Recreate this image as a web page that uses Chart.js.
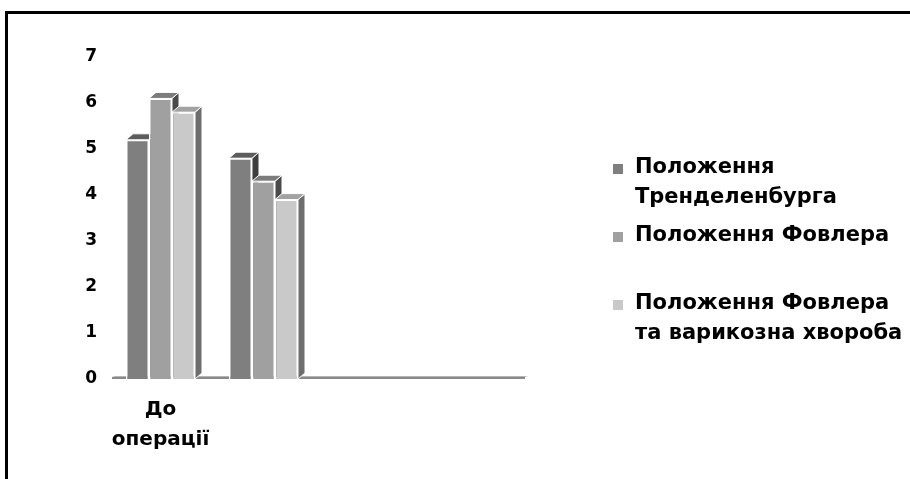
<!DOCTYPE html>
<html>
<head>
<meta charset="utf-8">
<script src="https://cdn.jsdelivr.net/npm/chart.js@4.4.0/dist/chart.umd.min.js"></script>
<style>
  html, body { margin: 0; padding: 0; background: #fff; }
  #wrap { position: relative; width: 910px; height: 479px; overflow: hidden; }
  #frame { position: absolute; left: 5px; top: 11px; width: 1000px; height: 1000px;
           border: 3px solid #000; box-sizing: border-box; pointer-events: none; }
  canvas { position: absolute; left: 0; top: 0; }
</style>
</head>
<body>
<div id="wrap">
  <canvas id="chart" width="910" height="479"></canvas>
  <div id="frame"></div>
</div>
<script>
// Categories along the floor (only the first one carries a caption)
const categories = [['До', 'операції'], '', '', ''];

// Series names, split into the lines shown in the legend
const seriesNames = [
  ['Положення', 'Тренделенбурга'],
  ['Положення Фовлера'],
  ['Положення Фовлера', 'та варикозна хвороба']
];

// Values per category for each series
const trendelenburg  = [5.2, 4.8, null, null];
const fowler         = [6.1, 4.3, null, null];
const fowlerVaricose = [5.8, 3.9, null, null];

// Value axis ticks
const yTicks = [0, 1, 2, 3, 4, 5, 6, 7];

// Face colours: front, top, side
const frontColors = ['#7f7f7f', '#a0a0a0', '#c9c9c9'];
const topColors   = ['#5c5c5c', '#7c7c7c', '#a2a2a2'];
const sideColors  = ['#3e3e3e', '#4a4a4a', '#6e6e6e'];

const FONT = '"DejaVu Sans", "Liberation Sans", Arial, sans-serif';
const DEPTH_X = 7, DEPTH_Y = 6;

// Draws the floor slab plus the top and side faces of every column.
// Fronts are drawn afterwards by Chart.js, so neighbouring columns
// hide the parts of these faces they stand in front of.
const columns3d = {
  id: 'columns3d',
  beforeDatasetsDraw(chart) {
    const { ctx, chartArea } = chart;
    const zeroY = chart.scales.y.getPixelForValue(0);
    ctx.save();
    ctx.fillStyle = '#8a8a8a';
    ctx.fillRect(chartArea.left + 3, zeroY - 2, chartArea.right - chartArea.left + 1, 2);
    ctx.fillStyle = '#b5b5b5';
    ctx.beginPath();
    ctx.moveTo(chartArea.left + 3, zeroY - 2);
    ctx.lineTo(chartArea.left + 6, zeroY - 3);
    ctx.lineTo(chartArea.right + 7, zeroY - 3);
    ctx.lineTo(chartArea.right + 4, zeroY - 2);
    ctx.closePath();
    ctx.fill();

    const n = categories.length;
    for (let i = 0; i < n; i++) {
      chart.data.datasets.forEach((ds, d) => {
        const el = chart.getDatasetMeta(d).data[i];
        if (!el || ds.data[i] == null) return;
        const { x, y, width, base } = el.getProps(['x', 'y', 'width', 'base'], true);
        const l = x - width / 2, r = x + width / 2;
        ctx.lineWidth = 1;
        ctx.strokeStyle = '#ffffff';
        // side face
        ctx.fillStyle = sideColors[d];
        ctx.beginPath();
        ctx.moveTo(r, y);
        ctx.lineTo(r + DEPTH_X, y - DEPTH_Y);
        ctx.lineTo(r + DEPTH_X, base - DEPTH_Y);
        ctx.lineTo(r, base);
        ctx.closePath();
        ctx.fill();
        ctx.stroke();
        // top face
        ctx.fillStyle = topColors[d];
        ctx.beginPath();
        ctx.moveTo(l, y);
        ctx.lineTo(l + DEPTH_X, y - DEPTH_Y);
        ctx.lineTo(r + DEPTH_X, y - DEPTH_Y);
        ctx.lineTo(r, y);
        ctx.closePath();
        ctx.fill();
        ctx.stroke();
      });
    }
    ctx.restore();
  }
};

// Legend on the right, one square marker per series
const sideLegend = {
  id: 'sideLegend',
  afterDraw(chart) {
    const { ctx } = chart;
    const boxX = 613, box = 10, textX = 635;
    const firstY = 168, itemStep = 68, lineStep = 29.5;
    ctx.save();
    ctx.font = 'bold 21px ' + FONT;
    ctx.textBaseline = 'middle';
    ctx.textAlign = 'left';
    chart.data.datasets.forEach((ds, d) => {
      const y0 = firstY + d * itemStep;
      ctx.fillStyle = frontColors[d];
      ctx.fillRect(boxX, y0 - box / 2 + 1, box, box);
      ctx.fillStyle = '#000';
      seriesNames[d].forEach((line, k) => ctx.fillText(line, textX, y0 + k * lineStep));
    });
    ctx.restore();
  }
};

const datasets = [trendelenburg, fowler, fowlerVaricose].map((values, d) => ({
  label: seriesNames[d].join(' '),
  data: values,
  backgroundColor: frontColors[d],
  borderColor: '#ffffff',
  borderWidth: 1.5,
  borderSkipped: 'start',
  barPercentage: 1,
  categoryPercentage: 0.67
}));

new Chart(document.getElementById('chart'), {
  type: 'bar',
  data: { labels: categories, datasets },
  options: {
    responsive: false,
    animation: false,
    layout: { padding: { top: 57, right: 389, bottom: 0, left: 0 } },
    plugins: { legend: { display: false }, tooltip: { enabled: false } },
    scales: {
      x: {
        grid: { display: false, drawTicks: false, tickLength: 0 },
        border: { display: false },
        ticks: {
          color: '#000',
          font: { family: FONT, size: 20, weight: 'bold', lineHeight: 30 / 20 },
          padding: 16,
          maxRotation: 0,
          autoSkip: false
        },
        afterFit(scale) { scale.height = 100; }
      },
      y: {
        min: yTicks[0],
        max: yTicks[yTicks.length - 1],
        afterBuildTicks(scale) { scale.ticks = yTicks.map(v => ({ value: v })); },
        grid: { display: false, drawTicks: false, tickLength: 0 },
        border: { display: false },
        ticks: {
          color: '#000',
          font: { family: FONT, size: 17, weight: 'bold' },
          padding: 12
        },
        afterFit(scale) { scale.width = 109; }
      }
    }
  },
  plugins: [columns3d, sideLegend]
});
</script>
</body>
</html>
